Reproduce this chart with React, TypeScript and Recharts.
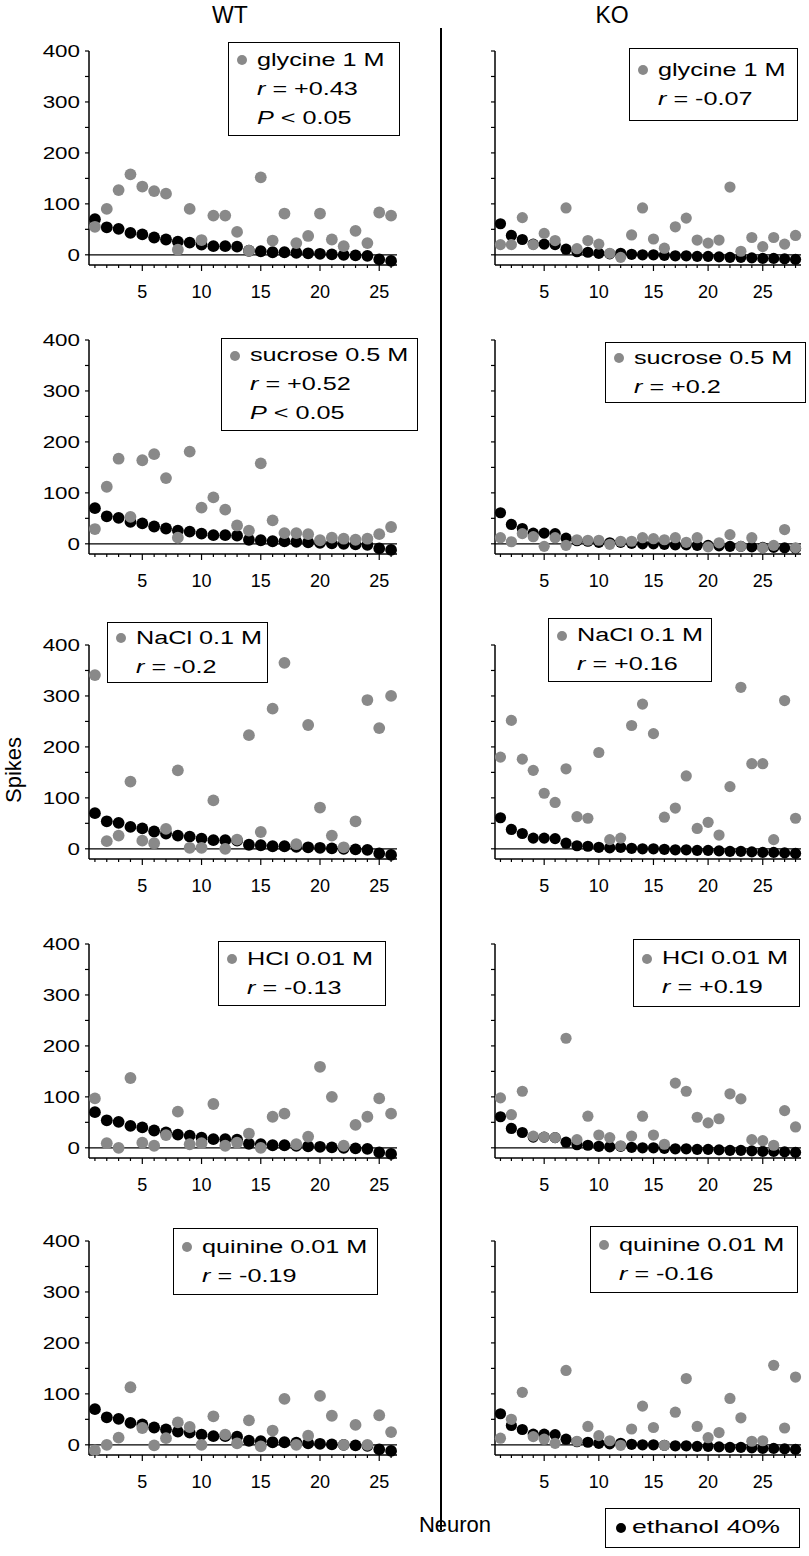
import React from 'react'
import { ScatterChart, Scatter, XAxis, YAxis, ReferenceLine } from 'recharts'

// neuron numbers (x) for each genotype
const wtNeurons = [1, 2, 3, 4, 5, 6, 7, 8, 9, 10, 11, 12, 13, 14, 15, 16, 17, 18, 19, 20, 21, 22, 23, 24, 25, 26]
const koNeurons = [1, 2, 3, 4, 5, 6, 7, 8, 9, 10, 11, 12, 13, 14, 15, 16, 17, 18, 19, 20, 21, 22, 23, 24, 25, 26, 27, 28]
const yTicks = [0, 50, 100, 150, 200, 250, 300, 350, 400]

// ethanol 40% responses (black), sorted per genotype
const wtEthanol = [70, 54, 51, 43, 40, 34, 30, 26, 24, 20, 17, 17, 16, 8, 7, 5, 5, 4, 3, 2, 1, 0, -1, -2, -9, -12]
const koEthanol = [61, 38, 30, 21, 21, 20, 11, 6, 5, 3, 2, 3, 1, 0, 0, -1, -2, -2, -3, -3, -4, -5, -5, -6, -7, -7, -8, -9]

// tastant responses (grey)
const wtGlycine = [55, 90, 127, 158, 134, 125, 120, 10, 90, 29, 77, 77, 45, 8, 152, 28, 81, 23, 37, 81, 30, 17, 47, 23, 83, 77]
const koGlycine = [20, 20, 73, 20, 42, 28, 92, 12, 28, 21, 3, -5, 39, 92, 31, 13, 55, 72, 29, 23, 29, 133, 7, 34, 16, 34, 21, 38]
const wtSucrose = [29, 112, 167, 53, 164, 176, 129, 12, 181, 71, 91, 67, 36, 26, 158, 46, 21, 21, 19, 7, 12, 10, 8, 10, 19, 33]
const koSucrose = [12, 4, 20, 14, -5, 12, -3, 8, 7, 7, -1, 5, 5, 12, 10, 8, 12, 3, 12, -6, 2, 18, -5, 12, -8, -3, 28, -8]
const wtNaCl = [341, 15, 26, 132, 16, 11, 39, 154, 2, 2, 95, 0, 18, 223, 33, 275, 365, 9, 243, 81, 26, 3, 54, 292, 237, 300]
const koNaCl = [180, 252, 176, 154, 109, 91, 157, 63, 60, 189, 18, 21, 242, 284, 226, 62, 80, 143, 40, 52, 27, 122, 317, 167, 167, 18, 291, 60]
const wtHCl = [97, 9, 0, 137, 10, 4, 25, 71, 7, 9, 86, 4, 10, 28, 0, 61, 67, 7, 22, 159, 100, 4, 45, 61, 97, 67]
const koHCl = [98, 65, 111, 23, 21, 20, 215, 16, 62, 25, 20, 4, 23, 62, 25, 7, 127, 111, 60, 49, 57, 106, 96, 16, 14, 5, 73, 41]
const wtQuinine = [-11, 0, 14, 113, 33, -1, 13, 44, 35, 0, 56, 20, 3, 48, -3, 28, 90, 0, 18, 96, 57, 0, 39, 0, 58, 25]
const koQuinine = [13, 50, 103, 16, 11, 3, 146, 7, 36, 18, 8, -1, 31, 76, 34, -1, 64, 130, 36, 14, 24, 91, 53, 7, 8, 156, 33, 133]

const stimuli = ['glycine 1 M', 'sucrose 0.5 M', 'NaCl 0.1 M', 'HCl 0.01 M', 'quinine 0.01 M']
const wtR = ['+0.43', '+0.52', '-0.2', '-0.13', '-0.19']
const koR = ['-0.07', '+0.2', '+0.16', '+0.19', '-0.16']
const wtSignificant = [true, true, false, false, false]

const FONT = '"Liberation Sans", Arial, Helvetica, sans-serif'
const GREY = '#898989'

// layout
const rowTops = [51, 340, 645, 944, 1241]
const wtBoxes = [
  { left: 228, top: 42, w: 172, h: 94 },
  { left: 221, top: 338, w: 197, h: 93 },
  { left: 107, top: 622, w: 161, h: 61 },
  { left: 218, top: 941, w: 168, h: 65 },
  { left: 173, top: 1228, w: 205, h: 67 },
]
const koBoxes = [
  { left: 629, top: 48, w: 169, h: 73 },
  { left: 605, top: 342, w: 201, h: 61 },
  { left: 548, top: 618, w: 164, h: 64 },
  { left: 633, top: 939, w: 167, h: 68 },
  { left: 590, top: 1226, w: 208, h: 67 },
]

const XTick = (props: any) => {
  const { x, y, payload } = props
  const major = payload.value % 5 === 0
  return (
    <g>
      <line x1={x} x2={x} y1={y} y2={y + (major ? 6 : 3)} stroke="#000" strokeWidth={1.2} />
      {major && (
        <text x={x} y={y + 27} textAnchor="middle" dominantBaseline="central" fontSize={18} fontFamily={FONT} fill="#000">
          {payload.value}
        </text>
      )}
    </g>
  )
}

const makeYTick = (showLabel: boolean) => (props: any) => {
  const { x, y, payload } = props
  return (
    <g>
      <line x1={x - 4} x2={x} y1={y} y2={y} stroke="#000" strokeWidth={1.2} />
      {showLabel && payload.value % 100 === 0 && (
        <text
          transform={`translate(${x - 9},${y}) scale(1.4,1)`}
          textAnchor="end"
          dominantBaseline="central"
          fontSize={16}
          fontFamily={FONT}
          fill="#000"
        >
          {payload.value}
        </text>
      )}
    </g>
  )
}

const dot = (color: string, r: number) => (p: any) => <circle cx={p.cx} cy={p.cy} r={r} fill={color} />

const Panel = (props: { neurons: number[]; ethanol: number[]; tastant: number[]; top: number; wt: boolean }) => {
  const { neurons, ethanol, tastant, top, wt } = props
  const width = wt ? 420 : 389
  const plotLeft = wt ? 89 : 75
  const plotRight = wt ? 23 : 8
  const r = wt ? 5.9 : 5.6
  const black = neurons.map((n, i) => ({ x: n, y: ethanol[i] }))
  const grey = neurons.map((n, i) => ({ x: n, y: tastant[i] }))
  return (
    <div style={{ position: 'absolute', left: wt ? 0 : 420, top: top - 30 }}>
      <ScatterChart width={width} height={289} margin={{ top: 30, right: plotRight, bottom: 0, left: plotLeft - 40 }}>
        <XAxis
          type="number"
          dataKey="x"
          domain={[0.5, neurons.length + 0.5]}
          ticks={neurons}
          interval={0}
          tickSize={0}
          tickMargin={0}
          tickLine={false}
          tick={XTick}
          axisLine={{ stroke: '#000', strokeWidth: 1.5 }}
          height={45}
        />
        <YAxis
          type="number"
          dataKey="y"
          domain={[-20, 400]}
          ticks={yTicks}
          interval={0}
          tickSize={0}
          tickMargin={0}
          tickLine={false}
          tick={makeYTick(wt)}
          axisLine={{ stroke: '#000', strokeWidth: 1.5 }}
          width={40}
        />
        <ReferenceLine y={0} stroke="#000" strokeWidth={1.3} />
        <Scatter data={black} shape={dot('#000', r)} isAnimationActive={false} />
        <Scatter data={grey} shape={dot(GREY, r)} isAnimationActive={false} />
      </ScatterChart>
    </div>
  )
}

const line: React.CSSProperties = { position: 'relative', height: 29 }
const stretched: React.CSSProperties = {
  position: 'absolute',
  left: 28,
  top: 0,
  whiteSpace: 'nowrap',
  transform: 'scaleX(1.4)',
  transformOrigin: 'left center',
}

const LegendBox = (props: { box: { left: number; top: number; w: number; h: number }; label: string; r: string; p: boolean }) => {
  const { box, label, r, p } = props
  return (
    <div
      style={{
        position: 'absolute',
        left: box.left,
        top: box.top,
        width: box.w,
        height: box.h,
        border: '1.5px solid #000',
        boxSizing: 'border-box',
        display: 'flex',
        flexDirection: 'column',
        justifyContent: 'center',
        fontFamily: FONT,
        fontSize: 18,
        lineHeight: '29px',
        color: '#000',
      }}
    >
      <div style={line}>
        <span style={{ position: 'absolute', left: 8, top: 9.5, width: 10, height: 10, borderRadius: '50%', background: GREY }} />
        <span style={stretched}>{label}</span>
      </div>
      <div style={line}>
        <span style={stretched}>
          <i>r</i> = {r}
        </span>
      </div>
      {p && (
        <div style={line}>
          <span style={stretched}>
            <i>P</i> &lt; 0.05
          </span>
        </div>
      )}
    </div>
  )
}

export default function App() {
  return (
    <div style={{ position: 'absolute', left: 0, top: 0, width: 809, height: 1556, background: '#fff', fontFamily: FONT }}>
      <div style={{ position: 'absolute', left: 180, width: 100, top: 2, textAlign: 'center', fontSize: 23 }}>WT</div>
      <div style={{ position: 'absolute', left: 562, width: 100, top: 2, textAlign: 'center', fontSize: 23 }}>KO</div>
      <div style={{ position: 'absolute', left: 440, top: 28, width: 2, height: 1502, background: '#000' }} />
      <div
        style={{
          position: 'absolute',
          left: 14,
          top: 770,
          fontSize: 22,
          transform: 'translate(-50%, -50%) rotate(-90deg)',
          whiteSpace: 'nowrap',
        }}
      >
        Spikes
      </div>
      <div style={{ position: 'absolute', left: 455, top: 1525, fontSize: 22, transform: 'translate(-50%, -50%)' }}>Neuron</div>

      {stimuli.map((s, i) => (
        <React.Fragment key={s}>
          <Panel
            neurons={wtNeurons}
            ethanol={wtEthanol}
            tastant={[wtGlycine, wtSucrose, wtNaCl, wtHCl, wtQuinine][i]}
            top={rowTops[i]}
            wt
          />
          <Panel
            neurons={koNeurons}
            ethanol={koEthanol}
            tastant={[koGlycine, koSucrose, koNaCl, koHCl, koQuinine][i]}
            top={rowTops[i]}
            wt={false}
          />
          <LegendBox box={wtBoxes[i]} label={s} r={wtR[i]} p={wtSignificant[i]} />
          <LegendBox box={koBoxes[i]} label={s} r={koR[i]} p={false} />
        </React.Fragment>
      ))}

      <div
        style={{
          position: 'absolute',
          left: 605,
          top: 1508,
          width: 195,
          height: 40,
          border: '1.5px solid #000',
          boxSizing: 'border-box',
          fontSize: 19,
        }}
      >
        <span style={{ position: 'absolute', left: 10, top: 14, width: 10, height: 10, borderRadius: '50%', background: '#000' }} />
        <span style={{ position: 'absolute', left: 26, top: 7, whiteSpace: 'nowrap', transform: 'scaleX(1.4)', transformOrigin: 'left center' }}>
          ethanol 40%
        </span>
      </div>
    </div>
  )
}
